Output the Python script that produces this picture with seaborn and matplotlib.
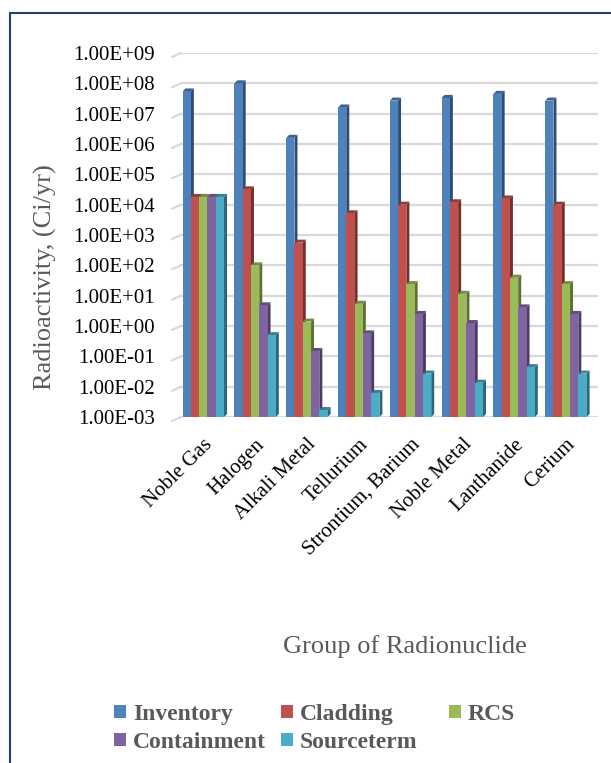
import numpy as np
import pandas as pd
import matplotlib
matplotlib.use("Agg")
import matplotlib.pyplot as plt
import matplotlib.colors as mcolors
import seaborn as sns
from matplotlib.patches import Polygon, Rectangle, Patch
from matplotlib.lines import Line2D
from matplotlib.transforms import IdentityTransform
from matplotlib.ticker import FuncFormatter, LogLocator

groups = ["Noble Gas", "Halogen", "Alkali Metal", "Tellurium",
          "Strontium, Barium", "Noble Metal", "Lanthanide", "Cerium"]
series = ["Inventory", "Cladding", "RCS", "Containment", "Sourceterm"]
inventory = [5.4e7, 1.0e8, 1.6e6, 1.6e7, 2.7e7, 3.3e7, 4.5e7, 2.7e7]
cladding = [1.8e4, 3.2e4, 560, 5.2e3, 1.0e4, 1.2e4, 1.6e4, 1.0e4]
rcs = [1.8e4, 100, 1.4, 5.4, 24, 11.5, 39, 24]
containment = [1.8e4, 4.8, 0.15, 0.57, 2.5, 1.25, 4.1, 2.5]
sourceterm = [1.8e4, 0.5, 1.7e-3, 6.2e-3, 0.027, 0.0135, 0.044, 0.027]
colors = ["#4F81BD", "#C0504D", "#9BBB59", "#8064A2", "#4BACC6"]

df = pd.DataFrame({
    "group": groups * 5,
    "series": np.repeat(series, len(groups)),
    "value": inventory + cladding + rcs + containment + sourceterm,
})

sns.set_style("white")
plt.rcParams["font.family"] = ["Liberation Serif", "DejaVu Serif"]

W, H = 611, 763
fig = plt.figure(figsize=(W / 100, H / 100), dpi=100)
ax = fig.add_axes([180 / W, 1 - 417 / H, (598 - 180) / W, (417 - 53) / H])

sns.barplot(data=df, x="group", y="value", hue="series", palette=colors,
            saturation=1, width=0.8, gap=0, legend=False, ax=ax,
            edgecolor="none", linewidth=0)
ax.set_yscale("log")
ax.set_ylim(1e-3, 1e9)
ax.set_xlim(-0.45, 7.62)
ax.yaxis.set_major_locator(LogLocator(base=10, numticks=20))
ax.yaxis.set_minor_locator(plt.NullLocator())
ax.yaxis.set_major_formatter(FuncFormatter(lambda v, p: f"{v:.2E}"))
ax.grid(axis="y", color="#d9d9d9", lw=1.6)
ax.set_axisbelow(True)
for s in ax.spines.values():
    s.set_visible(False)
ax.tick_params(axis="both", length=0, labelsize=15, colors="black")
ax.tick_params(axis="y", pad=18)
ax.set_xlabel("")
ax.set_ylabel("")
plt.setp(ax.get_xticklabels(), rotation=45, ha="right", va="top",
         rotation_mode="anchor")
ax.tick_params(axis="x", pad=13)

# fake 3D faces on the bars
fig.canvas.draw()
axbb = ax.get_window_extent()
bars = sorted(ax.patches, key=lambda p: p.get_x())
d, dy = 3.0, 3.0
for i, p in enumerate(bars):
    z = 2 + 0.1 * i
    p.set_zorder(z)
    p.set_linewidth(0)
    bb = p.get_window_extent()
    x0, x1 = bb.x0, bb.x1
    y0 = max(bb.y0, axbb.y0)
    y1 = bb.y1
    rgb = np.array(mcolors.to_rgb(p.get_facecolor()))
    side = Polygon([(x1, y0), (x1 + d, y0 + dy), (x1 + d, y1 + dy), (x1, y1)],
                   closed=True, transform=IdentityTransform(), clip_on=False,
                   facecolor=rgb * 0.6, edgecolor="none", zorder=z - 0.05)
    top = Polygon([(x0, y1), (x0 + d, y1 + dy), (x1 + d, y1 + dy), (x1, y1)],
                  closed=True, transform=IdentityTransform(), clip_on=False,
                  facecolor=rgb * 0.75, edgecolor="none", zorder=z - 0.04)
    ax.add_artist(side)
    ax.add_artist(top)

# slanted ends of the gridlines
for t in ax.get_yticks():
    if 1e-3 <= t <= 1e9:
        yd = ax.transData.transform((0, t))[1]
        ax.add_artist(Line2D([axbb.x0 - 8, axbb.x0 + 1], [yd - 4, yd],
                             transform=IdentityTransform(), color="#d9d9d9",
                             lw=1.6, clip_on=False, zorder=0.5))

fig.text(45 / W, 1 - 277 / H, "Radioactivity, (Ci/yr)", rotation=90,
         ha="center", va="center", fontsize=19, color="#595959")
fig.text(405 / W, 1 - 647 / H, "Group of Radionuclide",
         ha="center", va="center", fontsize=19, color="#595959")

# legend laid out in three equal columns
cols = [[0, 3], [1, 4], [2]]
xs = [114, 281, 449]
for xpos, idx in zip(xs, cols):
    handles = [Patch(facecolor=colors[k], edgecolor="none") for k in idx]
    leg = fig.legend(handles, [series[k] for k in idx], loc="upper left",
                     bbox_to_anchor=(xpos / W, 1 - 704 / H), frameon=False,
                     prop={"weight": "bold", "size": 17}, handlelength=0.5,
                     handleheight=0.5, handletextpad=0.3, labelspacing=0.3,
                     borderaxespad=0, borderpad=0)
    for txt in leg.get_texts():
        txt.set_color("#595959")

fig.patches.append(Rectangle((10 / W, -0.1), 2, 1 - 13 / H + 0.1,
                             transform=fig.transFigure, fill=False,
                             edgecolor="#24406E", lw=1.5))

fig.savefig("out.png", dpi=100)
